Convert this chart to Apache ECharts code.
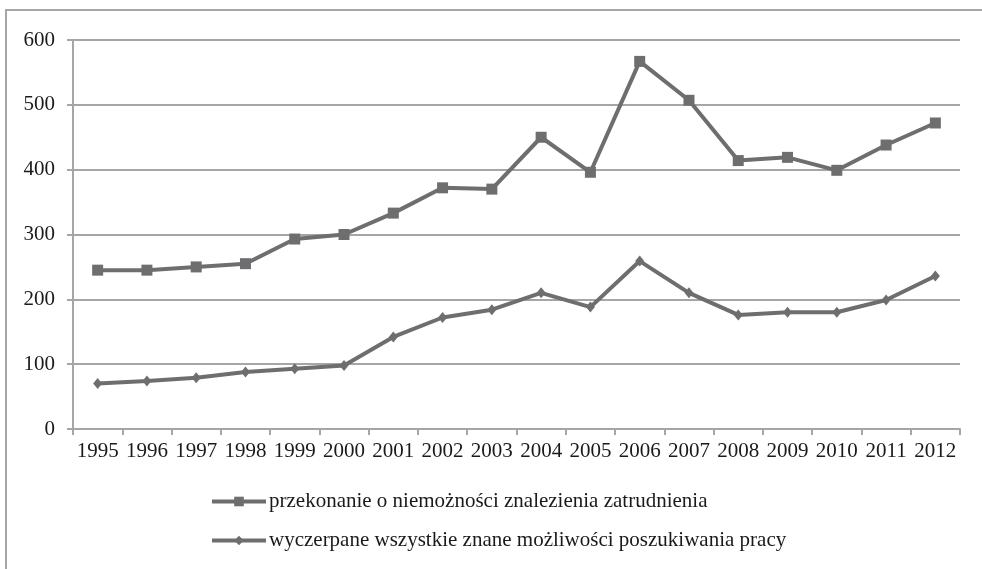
<!DOCTYPE html>
<html>
<head>
<meta charset="utf-8">
<script src="https://cdn.jsdelivr.net/npm/echarts@6/dist/echarts.min.js"></script>
<style>
  html, body { margin: 0; padding: 0; background: #fff; }
  #chart { width: 982px; height: 569px; }
</style>
</head>
<body>
<div id="chart"></div>
<script>
// Years on the category axis
const years = ['1995','1996','1997','1998','1999','2000','2001','2002','2003',
               '2004','2005','2006','2007','2008','2009','2010','2011','2012'];

// Series names
const nameConviction = 'przekonanie o niemożności znalezienia zatrudnienia';
const nameExhausted = 'wyczerpane wszystkie znane możliwości poszukiwania pracy';

// Values per year
const convictionValues = [245, 245, 250, 255, 293, 300, 333, 372, 370, 450, 396, 567, 507, 414, 419, 399, 438, 472];
const exhaustedValues  = [70, 74, 79, 88, 93, 98, 142, 172, 184, 210, 188, 259, 210, 176, 180, 180, 199, 236];

// Value axis range
const yMin = 0, yMax = 600, yStep = 100;

const lineColor = '#6e6e70';
const gridColor = '#a6a6a6';
const textColor = '#1a1a1a';
const font = 'Liberation Serif';

const chart = echarts.init(document.getElementById('chart'), null, { renderer: 'canvas' });

chart.setOption({
  animation: false,
  backgroundColor: '#fff',
  textStyle: { fontFamily: font },
  graphic: [{
    type: 'rect',
    shape: { x: 6, y: 10, width: 1000, height: 600 },
    style: { fill: 'none', stroke: gridColor, lineWidth: 2 },
    silent: true
  }],
  grid: { left: 73, right: 22, top: 40, bottom: 140, containLabel: false },
  legend: {
    orient: 'vertical',
    left: 210,
    top: 491,
    padding: 0,
    itemWidth: 54,
    itemHeight: 12,
    itemGap: 18,
    lineStyle: { width: 4 },
    textStyle: { fontFamily: font, fontSize: 21, color: textColor, lineHeight: 21, padding: [0, 0, 0, -2] },
    data: [nameConviction, nameExhausted]
  },
  xAxis: {
    type: 'category',
    data: years,
    boundaryGap: true,
    axisLine: { lineStyle: { color: gridColor, width: 2 } },
    axisTick: { show: true, length: 6, lineStyle: { color: gridColor, width: 2 } },
    axisLabel: { fontFamily: font, fontSize: 21, color: textColor, margin: 12, interval: 0 }
  },
  yAxis: {
    type: 'value',
    min: yMin,
    max: yMax,
    interval: yStep,
    axisLine: { show: true, lineStyle: { color: gridColor, width: 2 } },
    axisTick: { show: true, length: 6, lineStyle: { color: gridColor, width: 2 } },
    splitLine: { lineStyle: { color: gridColor, width: 2 } },
    axisLabel: { fontFamily: font, fontSize: 21, color: textColor, margin: 18 }
  },
  series: [
    {
      name: nameConviction,
      type: 'line',
      data: convictionValues,
      symbol: 'rect',
      symbolSize: 11,
      lineStyle: { color: lineColor, width: 4 },
      itemStyle: { color: lineColor },
      z: 3
    },
    {
      name: nameExhausted,
      type: 'line',
      data: exhaustedValues,
      symbol: 'diamond',
      symbolSize: [9, 11],
      lineStyle: { color: lineColor, width: 4 },
      itemStyle: { color: lineColor },
      z: 3
    }
  ]
});
</script>
</body>
</html>
